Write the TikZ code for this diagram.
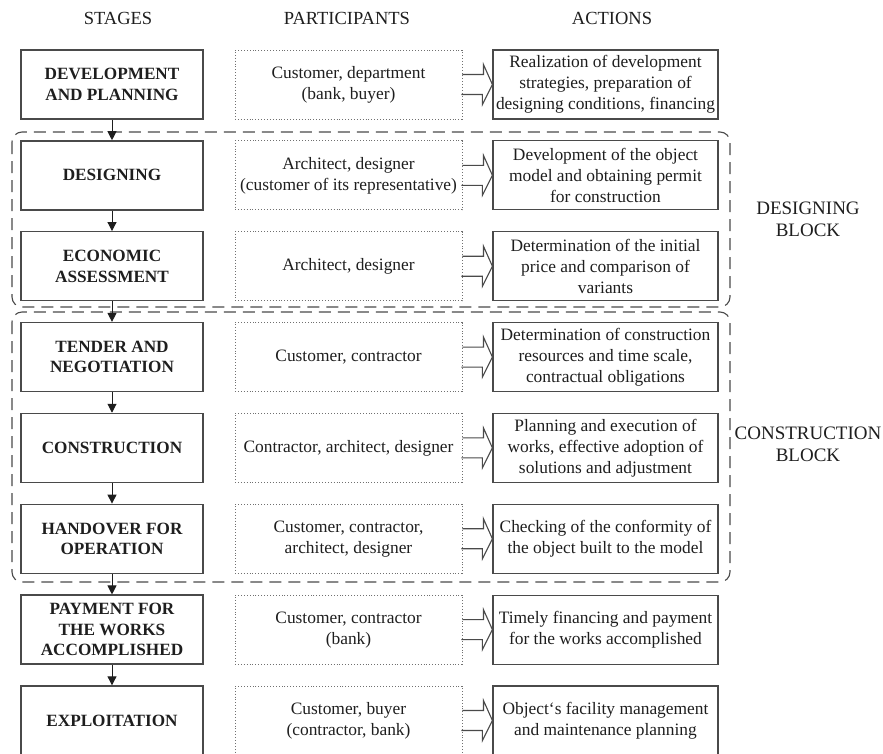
\documentclass[tikz,border=0pt]{standalone}
\usepackage{fontspec}
\setmainfont{Liberation Serif}
\usetikzlibrary{arrows.meta,calc}
\definecolor{ink}{HTML}{1E1E1E}
\definecolor{edge}{HTML}{4A4A4A}
\definecolor{dotc}{HTML}{707070}
\newcommand\bodyfont{\fontsize{17.4}{21}\selectfont}
\begin{document}
\begin{tikzpicture}[x=1pt,y=-1pt,
  every node/.style={text=ink, inner sep=0pt, align=center},
  stagebox/.style={draw=edge, line width=1.3pt, minimum width=182pt, minimum height=69pt,
    font=\fontsize{17.2}{20.5}\selectfont\bfseries},
  partbox/.style={draw=dotc, line width=0.9pt, dash pattern=on 0.9pt off 2pt,
    minimum width=227pt, minimum height=69pt, font=\bodyfont},
  actbox/.style={draw=edge, line width=1.2pt, minimum width=225pt, minimum height=69pt,
    font=\bodyfont},
  header/.style={font=\fontsize{18.5}{22}\selectfont},
  blocklabel/.style={font=\fontsize{19}{22}\selectfont},
  flow/.style={draw=ink, line width=1pt, -{Triangle[width=9pt,length=9pt]}},
  hollow/.style={draw=edge, line width=1.1pt, line join=miter},
  blockframe/.style={draw=edge, line width=1.1pt, dash pattern=on 12pt off 7pt, rounded corners=10pt}
]
\useasboundingbox (0,0) rectangle (883,753);

% headers
\node[header] (hs) at (118,18) {STAGES};
\node[header] (hp) at (347,18) {PARTICIPANTS};
\node[header] (ha) at (612,18) {ACTIONS};

% block frames
\draw[blockframe] (12,132) rectangle (730,307);
\draw[blockframe] (12,312) rectangle (730,582);
\node[blocklabel] (bl1) at (808,219) {DESIGNING\\BLOCK};
\node[blocklabel] (bl2) at (808,444) {CONSTRUCTION\\BLOCK};

% rows
\node[stagebox] (s1) at (112,84.5) {DEVELOPMENT\\AND PLANNING};
\node[partbox] (p1) at (348.5,84.5) {Customer, department\\(bank, buyer)};
\node[actbox] (a1) at (605.5,84.5) {Realization of development\\strategies, preparation of\\designing conditions, financing};

\node[stagebox] (s2) at (112,175.35) {DESIGNING};
\node[partbox] (p2) at (348.5,175.35) {Architect, designer\\(customer of its representative)};
\node[actbox] (a2) at (605.5,175.35) {Development of the object\\model and obtaining permit\\for construction};

\node[stagebox] (s3) at (112,266.2) {ECONOMIC\\ASSESSMENT};
\node[partbox] (p3) at (348.5,266.2) {Architect, designer};
\node[actbox] (a3) at (605.5,266.2) {Determination of the initial\\price and comparison of\\variants};

\node[stagebox] (s4) at (112,357.05) {TENDER AND\\NEGOTIATION};
\node[partbox] (p4) at (348.5,357.05) {Customer, contractor};
\node[actbox] (a4) at (605.5,357.05) {Determination of construction\\resources and time scale,\\contractual obligations};

\node[stagebox] (s5) at (112,447.9) {CONSTRUCTION};
\node[partbox] (p5) at (348.5,447.9) {Contractor, architect, designer};
\node[actbox] (a5) at (605.5,447.9) {Planning and execution of\\works, effective adoption of\\solutions and adjustment};

\node[stagebox] (s6) at (112,538.75) {HANDOVER FOR\\OPERATION};
\node[partbox] (p6) at (348.5,538.75) {Customer, contractor,\\architect, designer};
\node[actbox] (a6) at (605.5,538.75) {Checking of the conformity of\\the object built to the model};

\node[stagebox] (s7) at (112,629.6) {PAYMENT FOR\\THE WORKS\\ACCOMPLISHED};
\node[partbox] (p7) at (348.5,629.6) {Customer, contractor\\(bank)};
\node[actbox] (a7) at (605.5,629.6) {Timely financing and payment\\for the works accomplished};

\node[stagebox] (s8) at (112,720.45) {EXPLOITATION};
\node[partbox] (p8) at (348.5,720.45) {Customer, buyer\\(contractor, bank)};
\node[actbox] (a8) at (605.5,720.45) {Object‘s facility management\\and maintenance planning};

% stage flow
\foreach \i/\j in {1/2,2/3,3/4,4/5,5/6,6/7,7/8}
  \draw[flow] (s\i) -- (s\j);

% hollow arrows
\foreach \i in {1,...,8}
  \draw[hollow] ($(p\i.east)+(0,-10)$) -- ++(21,0) -- ++(0,-10) -- (a\i.west)
    -- ++(-10,20) -- ++(0,-10) -- ++(-21,0);
\end{tikzpicture}
\end{document}
